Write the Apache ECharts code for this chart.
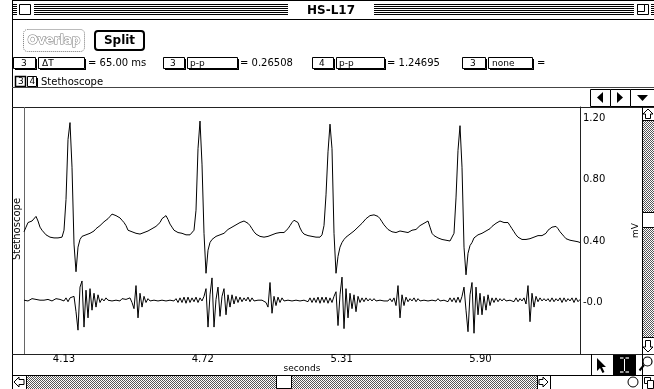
<!DOCTYPE html>
<html>
<head>
<meta charset="utf-8">
<script src="https://cdn.jsdelivr.net/npm/echarts@6/dist/echarts.min.js"></script>
<style>
  html, body { margin: 0; padding: 0; background: #fff; }
  #chart { width: 654px; height: 389px; }
</style>
</head>
<body>
<div id="chart"></div>
<script>
// sample clock of the recording (seconds)
const t0 = 3.96;
const dt = 0.0085;

// channel 3: ECG trace (mV), one value per sample
const ecg = [
  0.46, 0.49, 0.52, 0.52, 0.53, 0.54, 0.56, 0.53, 0.49, 0.47,
  0.47, 0.44, 0.43, 0.425, 0.42, 0.42, 0.425, 0.42, 0.42, 0.425,
  0.47, 0.67, 1.06, 1.17, 0.88, 0.38, 0.20, 0.36, 0.41, 0.43,
  0.43, 0.44, 0.445, 0.45, 0.46, 0.465, 0.48, 0.49, 0.50, 0.51,
  0.525, 0.535, 0.545, 0.56, 0.575, 0.57, 0.565, 0.555, 0.55, 0.535,
  0.52, 0.50, 0.47, 0.465, 0.46, 0.455, 0.45, 0.445, 0.445, 0.45,
  0.455, 0.46, 0.465, 0.47, 0.48, 0.49, 0.495, 0.50, 0.52, 0.545,
  0.555, 0.565, 0.54, 0.51, 0.49, 0.47, 0.46, 0.455, 0.45, 0.45,
  0.445, 0.44, 0.44, 0.44, 0.445, 0.47, 0.60, 1.00, 1.18, 0.90,
  0.45, 0.19, 0.34, 0.39, 0.41, 0.42, 0.43, 0.43, 0.44, 0.445,
  0.45, 0.46, 0.475, 0.485, 0.49, 0.50, 0.505, 0.515, 0.52, 0.525,
  0.53, 0.525, 0.515, 0.50, 0.48, 0.46, 0.445, 0.435, 0.43, 0.43,
  0.425, 0.43, 0.43, 0.43, 0.44, 0.45, 0.45, 0.45, 0.455, 0.455,
  0.455, 0.46, 0.48, 0.50, 0.52, 0.535, 0.545, 0.52, 0.485, 0.46,
  0.445, 0.44, 0.435, 0.43, 0.43, 0.43, 0.425, 0.425, 0.425, 0.44,
  0.50, 0.70, 0.98, 1.16, 1.00, 0.45, 0.19, 0.30, 0.36, 0.39,
  0.41, 0.425, 0.43, 0.445, 0.455, 0.465, 0.475, 0.49, 0.50, 0.515,
  0.53, 0.545, 0.555, 0.565, 0.57, 0.57, 0.565, 0.56, 0.545, 0.525,
  0.505, 0.49, 0.475, 0.465, 0.46, 0.455, 0.455, 0.46, 0.465, 0.465,
  0.46, 0.455, 0.455, 0.46, 0.47, 0.47, 0.475, 0.485, 0.50, 0.505,
  0.515, 0.525, 0.53, 0.49, 0.45, 0.435, 0.425, 0.42, 0.415, 0.41,
  0.41, 0.405, 0.405, 0.40, 0.40, 0.45, 0.68, 0.99, 1.15, 0.88,
  0.36, 0.18, 0.32, 0.37, 0.39, 0.42, 0.43, 0.44, 0.445, 0.45,
  0.455, 0.465, 0.47, 0.48, 0.495, 0.505, 0.515, 0.525, 0.53, 0.525,
  0.52, 0.525, 0.52, 0.50, 0.48, 0.46, 0.44, 0.425, 0.415, 0.41,
  0.41, 0.41, 0.41, 0.415, 0.42, 0.425, 0.43, 0.435, 0.43, 0.435,
  0.425, 0.45, 0.47, 0.48, 0.49, 0.50, 0.495, 0.48, 0.46, 0.445,
  0.43, 0.415, 0.41, 0.405, 0.40, 0.40, 0.395, 0.395, 0.39
];

// channel 4: stethoscope (heart sounds), same sample clock
const steth = [
  0.015, 0.02, 0.01, 0.02, 0.025, 0.015, 0.02, 0.01, 0.015, 0.02,
  0.015, 0.01, 0.02, 0.015, 0.01, 0.02, 0.025, 0.015, 0.02, 0.03,
  0.01, 0.03, 0.005, 0.03, 0.02, 0.04, -0.06, -0.18, 0.10, 0.14,
  -0.16, 0.08, -0.10, 0.09, -0.05, 0.06, -0.03, 0.05, 0.0, 0.025,
  0.01, 0.03, 0.015, 0.025, 0.01, 0.02, 0.015, 0.02, 0.01, 0.025,
  0.015, 0.02, 0.01, 0.03, 0.0, -0.04, 0.11, -0.10, 0.06, -0.03,
  0.04, 0.0, 0.025, 0.01, 0.02, 0.015, 0.02, 0.01, 0.02, 0.015,
  0.02, 0.01, 0.02, 0.015, 0.02, 0.01, 0.025, 0.0, 0.03, 0.0,
  0.035, -0.005, 0.035, 0.0, 0.03, 0.005, 0.035, 0.0, 0.03, 0.01,
  0.04, 0.09, -0.16, 0.05, 0.16, -0.16, 0.02, 0.10, -0.09, 0.04,
  0.09, -0.08, 0.05, -0.03, 0.05, -0.01, 0.04, 0.0, 0.035, 0.005,
  0.03, 0.01, 0.035, 0.005, 0.03, 0.01, 0.02, 0.015, 0.02, 0.015,
  0.02, 0.0, -0.03, 0.13, -0.07, 0.04, -0.02, 0.035, 0.0, 0.03,
  0.01, 0.02, 0.015, 0.025, 0.01, 0.02, 0.015, 0.025, 0.01, 0.02,
  0.015, 0.025, 0.005, 0.03, 0.0, 0.03, 0.0, 0.035, -0.005, 0.035,
  0.0, 0.035, -0.005, 0.03, 0.0, 0.04, 0.07, -0.15, 0.05, 0.165,
  -0.17, 0.09, -0.10, 0.06, -0.04, 0.05, -0.06, 0.04, 0.0, 0.03,
  0.005, 0.03, 0.01, 0.025, 0.01, 0.025, 0.01, 0.02, 0.015, 0.025,
  0.01, 0.02, 0.01, 0.025, 0.005, 0.03, -0.02, 0.11, -0.10, 0.05,
  -0.02, 0.035, 0.005, 0.025, 0.01, 0.03, 0.005, 0.025, 0.01, 0.02,
  0.015, 0.025, 0.01, 0.02, 0.015, 0.02, 0.01, 0.025, 0.01, 0.02,
  0.015, 0.025, 0.005, 0.03, 0.005, 0.03, 0.0, 0.035, 0.0, 0.04,
  0.10, -0.05, -0.19, 0.05, 0.13, -0.20, 0.10, -0.08, 0.06, -0.08,
  0.04, -0.05, 0.05, -0.02, 0.03, 0.0, 0.03, 0.005, 0.025, 0.01,
  0.025, 0.01, 0.02, 0.015, 0.025, 0.005, 0.03, 0.005, 0.025, 0.01,
  0.03, -0.01, 0.11, -0.125, 0.06, -0.03, 0.04, 0.005, 0.03, 0.01,
  0.025, 0.01, 0.025, 0.005, 0.03, 0.005, 0.025, 0.01, 0.03, 0.0,
  0.03, 0.005, 0.025, 0.01, 0.03, 0.0, 0.03, 0.005, 0.02
];

const xTicks = [4.13, 4.72, 5.31, 5.90];
const yTicks = [0, 0.40, 0.80, 1.20];

const time = ecg.map((v, i) => +(t0 + i * dt).toFixed(4));

// 50% dither like the old mac scroll bars
const pat = document.createElement('canvas');
pat.width = 2; pat.height = 2;
const pc = pat.getContext('2d');
pc.fillStyle = '#fff'; pc.fillRect(0, 0, 2, 2);
pc.fillStyle = '#555'; pc.fillRect(0, 0, 1, 1); pc.fillRect(1, 1, 1, 1);
const dither = { image: pat, repeat: 'repeat' };

const ink = '#000';
const font = '10px "DejaVu Sans"';
const chrome = [];
function ln(x1, y1, x2, y2, c, w) {
  chrome.push({ type: 'line', silent: true, shape: { x1, y1, x2, y2 }, style: { stroke: c || ink, lineWidth: w || 1 } });
}
function rc(x, y, w, h, fill, stroke, lw) {
  chrome.push({ type: 'rect', silent: true, shape: { x, y, width: w, height: h }, style: { fill: fill || '#fff', stroke: stroke || null, lineWidth: lw || 1 } });
}
function tx(x, y, s, st, extra) {
  chrome.push(Object.assign({ type: 'text', silent: true, x, y,
    style: Object.assign({ text: s, fill: ink, font: font, textAlign: 'left', textVerticalAlign: 'middle' }, st || {}) }, extra || {}));
}
function poly(pts, fill, stroke, w) {
  chrome.push({ type: 'polygon', silent: true, shape: { points: pts }, style: { fill: fill || ink, stroke: stroke || null, lineWidth: w || 1 } });
}
function pop(x, y, w, h, label, dx) {
  rc(x + 0.5, y + 0.5, w, h, '#fff', ink);
  ln(x + w + 1.5, y + 2, x + w + 1.5, y + h + 2);
  ln(x + 2, y + h + 1.5, x + w + 2, y + h + 1.5);
  tx(x + dx, y + h / 2 + 1, label, { font: '9px "DejaVu Sans"' });
}

// window frame + title bar
ln(12.5, 0, 12.5, 389);
ln(12, 0.5, 654, 0.5);
ln(12, 19.5, 654, 19.5);
[4, 6, 8, 10, 12, 14].forEach(y => {
  ln(13, y + 0.5, 288, y + 0.5);
  ln(374, y + 0.5, 654, y + 0.5);
});
rc(17, 2, 17, 15, '#fff');
rc(19.5, 4.5, 11, 10, '#fff', ink);
rc(634, 2, 17, 15, '#fff');
rc(637.5, 4.5, 11, 10, '#fff', ink);
rc(637.5, 4.5, 7, 7, '#fff', ink);
tx(331, 10.5, 'HS-L17', { font: 'bold 12px "DejaVu Sans"', textAlign: 'center' });

// buttons
chrome.push({ type: 'rect', silent: true, shape: { x: 23.5, y: 29.5, width: 61, height: 22, r: 4 },
  style: { fill: '#fff', stroke: '#777', lineWidth: 1, lineDash: [1, 1] } });
tx(54, 41, 'Overlap', { font: 'bold 12px "DejaVu Sans"', textAlign: 'center', fill: '#fff', stroke: '#777', lineWidth: 1 });
chrome.push({ type: 'rect', silent: true, shape: { x: 95, y: 31, width: 49, height: 19, r: 3 },
  style: { fill: '#fff', stroke: ink, lineWidth: 2 } });
tx(119.5, 41, 'Split', { font: 'bold 12px "DejaVu Sans"', textAlign: 'center' });

// measurement row
pop(13, 57, 22, 11, '3', 8);
pop(38, 57, 46, 11, 'ΔT', 4);
tx(88, 63.5, '= 65.00 ms');
pop(163, 57, 21, 11, '3', 7);
pop(187, 57, 50, 11, 'p-p', 3);
tx(240, 63.5, '= 0.26508');
pop(312, 57, 21, 11, '4', 7);
pop(336, 57, 48, 11, 'p-p', 3);
tx(387, 63.5, '= 1.24695');
pop(462, 57, 23, 11, '3', 8);
pop(488, 57, 44, 11, 'none', 4);
tx(537, 63.5, '=');

// channel row
rc(15.5, 76.5, 10, 10, '#fff', ink, 1.5);
tx(18, 82, '3', { font: '9px "DejaVu Sans"' });
rc(27.5, 76.5, 9, 10, '#fff', ink);
ln(37.5, 78, 37.5, 88);
tx(29.5, 82, '4', { font: '9px "DejaVu Sans"' });
tx(41, 82, 'Stethoscope');

// separators and scroll arrows
ln(12, 87.5, 654, 87.5, '#444');
ln(12, 107.5, 654, 107.5, '#222');
rc(590.5, 89.5, 20, 17, '#fff', ink);
rc(610.5, 89.5, 20, 17, '#fff', ink);
rc(630.5, 89.5, 24, 17, '#fff', ink);
poly([[603, 92], [603, 103], [597, 97.5]]);
poly([[617, 92], [617, 103], [623, 97.5]]);
poly([[637, 95], [648, 95], [642.5, 101]]);

// plot frame
ln(24.5, 107, 24.5, 354, '#666');
ln(12, 354.5, 654, 354.5, '#222');
ln(12, 375.5, 654, 375.5, ink);
tx(17, 229, 'Stethoscope', { textAlign: 'center' }, { rotation: Math.PI / 2 });

// vertical scroll bar
ln(642.5, 107, 642.5, 389);
rc(643, 121, 11, 216, dither);
ln(642, 120.5, 654, 120.5);
ln(642, 337.5, 654, 337.5);
rc(642.5, 212.5, 12, 15, '#fff', ink);
poly([[648, 109], [643, 114], [645.5, 114], [645.5, 118.5], [650.5, 118.5], [650.5, 114], [653, 114]], '#fff', ink);
poly([[648, 352], [643, 347], [645.5, 347], [645.5, 340.5], [650.5, 340.5], [650.5, 347], [653, 347]], '#fff', ink);

// tool palette
ln(591.5, 354, 591.5, 375);
rc(613, 355, 23, 20, ink);
poly([[597, 358], [597, 371], [600, 368], [602.5, 373], [604.5, 372], [602, 367], [606, 367]]);
ln(624.5, 359, 624.5, 371, '#fff', 1);
ln(620, 358, 623.5, 358, '#fff', 1.2);
ln(625.5, 358, 629, 358, '#fff', 1.2);
ln(620, 372, 623.5, 372, '#fff', 1.2);
ln(625.5, 372, 629, 372, '#fff', 1.2);
chrome.push({ type: 'circle', silent: true, shape: { cx: 647.5, cy: 361.5, r: 4.5 }, style: { fill: '#fff', stroke: ink, lineWidth: 1.2 } });
ln(644, 365, 639.5, 370.5, ink, 2);

// horizontal scroll bar
rc(27, 376, 510, 13, dither);
ln(26.5, 375, 26.5, 389);
ln(537.5, 375, 537.5, 389);
ln(550.5, 375, 550.5, 389);
rc(276.5, 375.5, 15, 13, '#fff', ink);
poly([[14, 382], [19, 377], [19, 379.5], [24, 379.5], [24, 384.5], [19, 384.5], [19, 387]], '#fff', ink);
poly([[548, 382], [543, 377], [543, 379.5], [539, 379.5], [539, 384.5], [543, 384.5], [543, 387]], '#fff', ink);
chrome.push({ type: 'circle', silent: true, shape: { cx: 633, cy: 382, r: 5 }, style: { fill: '#fff', stroke: ink, lineWidth: 1 } });
rc(644.5, 377.5, 6, 6, '#fff', ink);
rc(647.5, 380.5, 6, 8, '#fff', ink);

const chart = echarts.init(document.getElementById('chart'), null, { renderer: 'canvas' });
chart.setOption({
  backgroundColor: '#fff',
  animation: false,
  textStyle: { fontFamily: 'DejaVu Sans', color: ink },
  grid: { left: 24, right: 74, top: 107, bottom: 35, containLabel: false },
  xAxis: {
    type: 'value',
    min: 3.96,
    max: +(t0 + (ecg.length - 1) * dt).toFixed(4),
    name: 'seconds',
    nameLocation: 'middle',
    nameGap: 10,
    nameMoveOverlap: false,
    nameTextStyle: { fontSize: 9, color: ink, fontFamily: 'DejaVu Sans', verticalAlign: 'top' },
    axisLine: { show: false },
    axisTick: { show: false },
    splitLine: { show: false },
    axisLabel: {
      customValues: xTicks,
      margin: 0,
      fontSize: 10,
      color: ink,
      fontFamily: 'DejaVu Sans',
      formatter: v => v.toFixed(2)
    }
  },
  yAxis: {
    type: 'value',
    position: 'right',
    min: -0.335,
    max: 1.2715,
    name: 'mV',
    nameLocation: 'middle',
    nameRotate: 90,
    nameGap: 51,
    nameMoveOverlap: false,
    nameTextStyle: { fontSize: 9, color: ink, fontFamily: 'DejaVu Sans' },
    axisLine: { show: true, lineStyle: { color: '#222', width: 1 } },
    axisTick: { show: false },
    splitLine: { show: false },
    axisLabel: {
      customValues: yTicks,
      margin: 3,
      fontSize: 10,
      color: ink,
      fontFamily: 'DejaVu Sans',
      formatter: v => (v === 0 ? '-0.0' : v.toFixed(2))
    }
  },
  series: [
    {
      name: 'ECG',
      type: 'line',
      data: time.map((t, i) => [t, ecg[i]]),
      showSymbol: false,
      lineStyle: { color: ink, width: 1 },
      silent: true
    },
    {
      name: 'Stethoscope',
      type: 'line',
      data: time.map((t, i) => [t, steth[i]]),
      showSymbol: false,
      lineStyle: { color: ink, width: 1 },
      silent: true
    }
  ],
  graphic: chrome
});
</script>
</body>
</html>
